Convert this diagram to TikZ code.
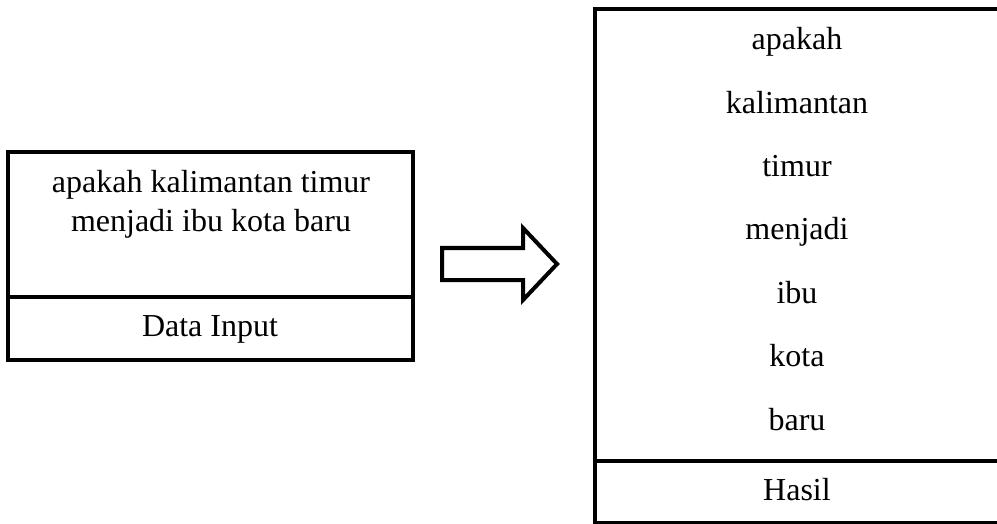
\documentclass[tikz,border=0pt]{standalone}
\usepackage{fontspec}
\setmainfont{Liberation Serif}
\begin{document}
\begin{tikzpicture}[x=1pt,y=-1pt,
  boxline/.style={line width=4.5pt,draw=black},
  arrowline/.style={line width=4pt,draw=black,line join=miter,miter limit=10},
  word/.style={inner sep=0pt,anchor=base,font=\fontsize{32}{39}\selectfont}]
\useasboundingbox (0,0) rectangle (997,524);
% left box
\draw[boxline] (8,152) rectangle (413,360);
\draw[boxline] (8,297) -- (413,297);
\node[word] (l1) at (211,193) {apakah kalimantan timur};
\node[word] (l2) at (211,232) {menjadi ibu kota baru};
\node[word] (lin) at (210,336.7) {Data Input};
% arrow
\draw[arrowline] (442,248) -- (523,248) -- (523,228) -- (557,264) -- (523,300) -- (523,280) -- (442,280) -- cycle;
% right box
\draw[boxline] (595,9) rectangle (999,523);
\draw[boxline] (595,461) -- (999,461);
\node[word] (r1) at (797,50) {apakah};
\node[word] (r2) at (797,113.3) {kalimantan};
\node[word] (r3) at (797,176.6) {timur};
\node[word] (r4) at (797,240) {menjadi};
\node[word] (r5) at (797,303.3) {ibu};
\node[word] (r6) at (797,366.6) {kota};
\node[word] (r7) at (797,430) {baru};
\node[word] (rh) at (797,500.7) {Hasil};
\end{tikzpicture}
\end{document}
